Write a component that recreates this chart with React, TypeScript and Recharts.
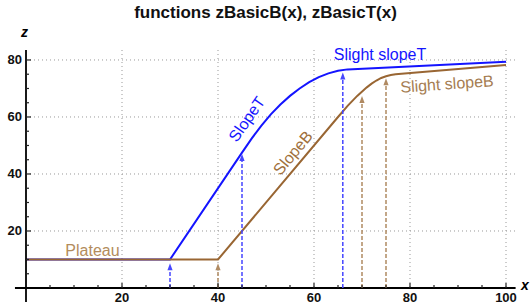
import React from "react";
import {
  LineChart,
  Line,
  XAxis,
  YAxis,
  CartesianGrid,
  ReferenceLine,
  ReferenceDot,
} from "recharts";

// zBasicT (blue) — plateau, slope, slight slope
const xT = [0, 30, 45, 47, 49, 51, 53, 55, 57, 59, 61, 63, 65, 67, 100];
const zT = [10, 10, 47.5, 52.4, 56.9, 60.9, 64.4, 67.4, 70, 72.2, 74, 75.3, 76.2, 76.7, 79.4];

// zBasicB (brown)
const xB = [0, 40, 65, 67, 69, 71, 72, 73, 74, 75, 76, 77, 100];
const zB = [10, 10, 60, 63.9, 67.4, 70.4, 71.7, 72.8, 73.7, 74.3, 74.7, 75, 78.2];

// dashed arrows: x position and tip height
const arrowXT = [30, 45, 66];
const arrowZT = [8.7, 47, 75.6];
const arrowXB = [40, 70, 75];
const arrowZB = [8.7, 67.4, 73.6];

const xTicks = [5, 10, 15, 20, 25, 30, 35, 40, 45, 50, 55, 60, 65, 70, 75, 80, 85, 90, 95, 100];
const yTicks = [5, 10, 15, 20, 25, 30, 35, 40, 45, 50, 55, 60, 65, 70, 75, 80];
const gridX = [20, 40, 60, 80, 100];
const gridY = [20, 40, 60, 80];

const BLUE = "#1414ff";
const BROWN = "#996633";
const FONT = "'Liberation Sans', Arial, sans-serif";

const dataT = xT.map((x, i) => ({ x, z: zT[i] }));
const dataB = xB.map((x, i) => ({ x, z: zB[i] }));

function XTick({ x, y, payload }: any) {
  const v = payload.value;
  const major = v % 20 === 0;
  return (
    <g>
      <line x1={x} x2={x} y1={y} y2={y - (major ? 5 : 3)} stroke="#222" strokeWidth={1.2} />
      {major && (
        <text x={x} y={y + 14} textAnchor="middle" fontFamily={FONT} fontSize={13} fontWeight="bold" fill="#111">
          {v}
        </text>
      )}
    </g>
  );
}

function YTick({ x, y, payload }: any) {
  const v = payload.value;
  const major = v % 20 === 0;
  return (
    <g>
      <line x1={x} x2={x + (major ? 5 : 3)} y1={y} y2={y} stroke="#222" strokeWidth={1.2} />
      {major && (
        <text x={x - 4} y={y + 4.5} textAnchor="end" fontFamily={FONT} fontSize={13} fontWeight="bold" fill="#111">
          {v}
        </text>
      )}
    </g>
  );
}

const arrowShape = (color: string) => (p: any) => {
  const top = Math.min(p.y1, p.y2);
  const bottom = Math.max(p.y1, p.y2);
  const x = p.x1;
  return (
    <g>
      <line x1={x} x2={x} y1={bottom} y2={top + 6} stroke={color} strokeWidth={1.5} strokeDasharray="4 2" />
      <polygon points={`${x},${top} ${x - 2.6},${top + 7} ${x + 2.6},${top + 7}`} fill={color} />
    </g>
  );
};

const textShape = (text: string, color: string, angle: number, size = 16) => (p: any) => (
  <text
    x={p.cx}
    y={p.cy}
    textAnchor="middle"
    dominantBaseline="central"
    fontFamily={FONT}
    fontSize={size}
    fill={color}
    transform={`rotate(${angle} ${p.cx} ${p.cy})`}
  >
    {text}
  </text>
);

export default function App() {
  return (
    <div style={{ position: "absolute", left: 0, top: 0, width: 531, height: 307, background: "#fff" }}>
      <div
        style={{
          position: "absolute",
          left: 0,
          top: 3,
          width: 531,
          textAlign: "center",
          fontFamily: FONT,
          fontSize: 17,
          fontWeight: "bold",
          color: "#111",
        }}
      >
        functions zBasicB(x), zBasicT(x)
      </div>
      <div style={{ position: "absolute", left: 21, top: 24, fontFamily: FONT, fontSize: 14, fontStyle: "italic", fontWeight: "bold" }}>
        z
      </div>
      <div style={{ position: "absolute", left: 521, top: 277, fontFamily: FONT, fontSize: 14, fontStyle: "italic", fontWeight: "bold" }}>
        x
      </div>
      <LineChart width={531} height={307} margin={{ top: 50, right: 15.4, left: 0, bottom: 0 }}>
        <CartesianGrid
          stroke="#999"
          strokeDasharray="1 3"
          horizontalValues={gridY}
          verticalValues={gridX}
        />
        <XAxis
          type="number"
          dataKey="x"
          domain={[0, 102]}
          allowDataOverflow
          ticks={xTicks}
          interval={0}
          height={19}
          axisLine={false}
          tickLine={false}
          tickSize={0}
          tickMargin={0}
          tick={<XTick />}
        />
        <YAxis
          type="number"
          dataKey="z"
          domain={[0, 83.5]}
          allowDataOverflow
          ticks={yTicks}
          interval={0}
          width={26}
          axisLine={false}
          tickLine={false}
          tickSize={0}
          tickMargin={0}
          tick={<YTick />}
        />
        <Line data={dataT} dataKey="z" type="linear" stroke={BLUE} strokeWidth={2} dot={false} isAnimationActive={false} />
        <Line data={dataB} dataKey="z" type="linear" stroke={BROWN} strokeWidth={2} dot={false} isAnimationActive={false} />
        <ReferenceLine segment={[{ x: -2.3, y: 0 }, { x: 102, y: 0 }]} stroke="#000" strokeWidth={1.8} ifOverflow="visible" />
        <ReferenceLine segment={[{ x: 0, y: -4.9 }, { x: 0, y: 83.5 }]} stroke="#000" strokeWidth={1.8} ifOverflow="visible" />
        {arrowXT.map((x, i) => (
          <ReferenceLine
            key={`t${x}`}
            segment={[{ x, y: 0 }, { x, y: arrowZT[i] }]}
            ifOverflow="visible"
            shape={arrowShape("#4646ff")}
          />
        ))}
        {arrowXB.map((x, i) => (
          <ReferenceLine
            key={`b${x}`}
            segment={[{ x, y: 0 }, { x, y: arrowZB[i] }]}
            ifOverflow="visible"
            shape={arrowShape("#b08a62")}
          />
        ))}
        <ReferenceDot x={46} y={59.3} r={0} ifOverflow="visible" shape={textShape("SlopeT", BLUE, -55)} />
        <ReferenceDot x={55.6} y={47.4} r={0} ifOverflow="visible" shape={textShape("SlopeB", "#a0703c", -50)} />
        <ReferenceDot x={73.75} y={81.75} r={0} ifOverflow="visible" shape={textShape("Slight slopeT", BLUE, 0)} />
        <ReferenceDot x={87.7} y={71.6} r={0} ifOverflow="visible" shape={textShape("Slight slopeB", "#a57d52", -4)} />
        <ReferenceDot x={13.85} y={13.3} r={0} ifOverflow="visible" shape={textShape("Plateau", "#b38c5c", 0)} />
      </LineChart>
    </div>
  );
}
